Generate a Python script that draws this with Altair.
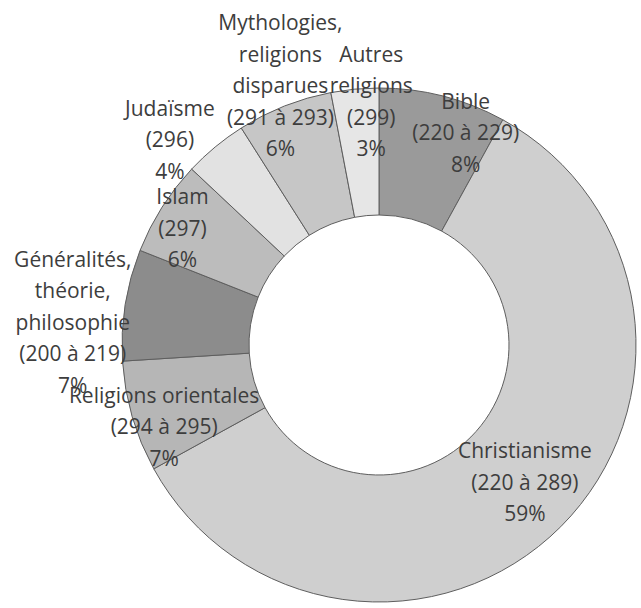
import math
import altair as alt
import pandas as pd

# ---- data ----
categories = ["Bible", "Christianisme", "Religions orientales",
              "Généralités, théorie, philosophie", "Islam", "Judaïsme",
              "Mythologies, religions disparues", "Autres religions"]
name_lines = [["Bible"], ["Christianisme"], ["Religions orientales"],
              ["Généralités,", "théorie,", "philosophie"], ["Islam"], ["Judaïsme"],
              ["Mythologies,", "religions", "disparues"], ["Autres", "religions"]]
codes = ["(220 à 229)", "(220 à 289)", "(294 à 295)", "(200 à 219)",
         "(297)", "(296)", "(291 à 293)", "(299)"]
percents = [8, 59, 7, 7, 6, 4, 6, 3]

# ---- styling ----
colors = ["#9a9a9a", "#cfcfcf", "#b6b6b6", "#8c8c8c",
          "#bcbcbc", "#e2e2e2", "#c6c6c6", "#e6e6e6"]
CX, CY = 379, 345
R_OUT, R_IN = 257, 130
LH = 31.5
FONT = "Open Sans"
FS = 21
# label layout: (radius, dx, dy) of the block centre around the slice mid-angle
label_layout = [(228, 30, 10), (202, 3, -4), (230, 6, 19), (307, -3, 27),
                (228, -4, 7), (292, -23, 21), (276, 3, -1), (242, 15, -1)]

labels = ["\n".join(n + [c, f"{p}%"]) for n, c, p in zip(name_lines, codes, percents)]
df = pd.DataFrame({
    "idx": list(range(len(categories))),
    "cat": categories,
    "pct": percents,
    "label": labels,
})

base = alt.Chart(df)
theta_scale = alt.Scale(domain=[0, 100], range=[0, 2 * math.pi])

arcs = base.mark_arc(innerRadius=R_IN, stroke="#5e5e5e", strokeWidth=1).encode(
    theta=alt.Theta("pct:Q", stack=True, scale=theta_scale),
    order=alt.Order("idx:Q"),
    color=alt.Color("cat:N", scale=alt.Scale(domain=categories, range=colors), legend=None),
    x=alt.value(CX), y=alt.value(CY), radius=alt.value(R_OUT),
)

layers = [arcs]
for i, (r, dx, dy) in enumerate(label_layout):
    n = labels[i].count("\n") + 1
    t = base.transform_window(
        cum="sum(pct)", sort=[alt.SortField("idx")], frame=[None, 0]
    ).transform_calculate(
        mid="datum.cum - datum.pct / 2"
    ).transform_filter(
        alt.datum.idx == i
    ).mark_text(
        font=FONT, fontSize=FS, lineHeight=LH, color="#3d3d3d",
        align="center", baseline="middle", lineBreak="\n",
        dx=dx, dy=dy - (n - 1) * LH / 2,
    ).encode(
        theta=alt.Theta("mid:Q", scale=theta_scale),
        radius=alt.value(r), x=alt.value(CX), y=alt.value(CY),
        text="label:N",
    )
    layers.append(t)

chart = alt.layer(*layers).properties(
    width=641, height=608, autosize="none", padding=0
).configure_view(stroke=None)

chart.save("out.html", embed_options={"renderer": "svg", "actions": False})
